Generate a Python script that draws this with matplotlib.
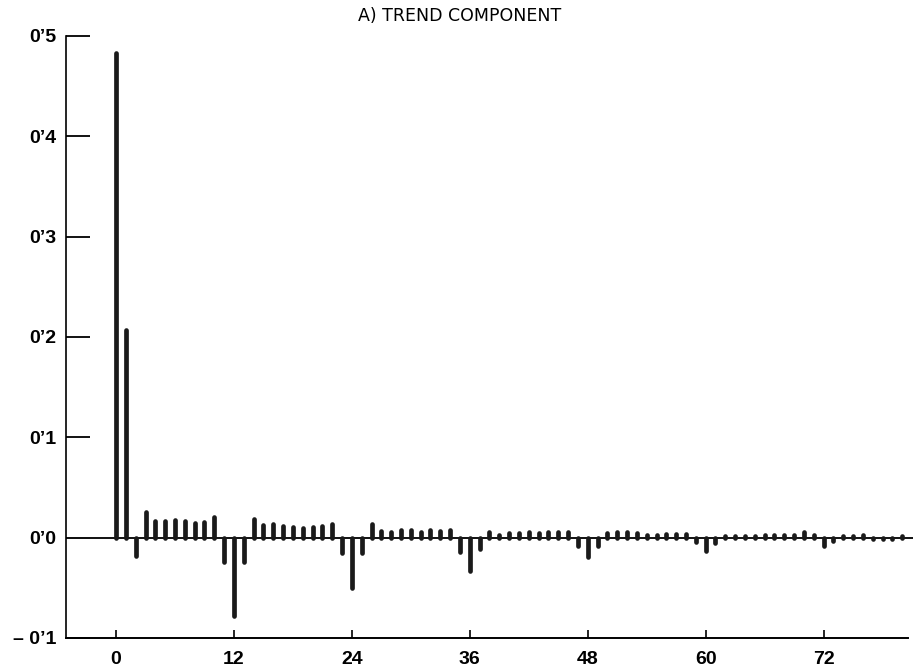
import numpy as np
import matplotlib
matplotlib.use('Agg')
import matplotlib.pyplot as plt

# autocorrelation values, lags 0..80
lags = np.arange(0, 81)
acf = [0.483, 0.207, -0.018, 0.026, 0.017, 0.017, 0.018, 0.017, 0.015, 0.016,
       0.021, -0.024, -0.078, -0.024, 0.019, 0.013, 0.014, 0.012, 0.011, 0.010,
       0.011, 0.012, 0.014, -0.015, -0.050, -0.015, 0.014, 0.007, 0.006, 0.008,
       0.008, 0.006, 0.008, 0.007, 0.008, -0.014, -0.033, -0.011, 0.006, 0.003,
       0.005, 0.005, 0.006, 0.005, 0.006, 0.006, 0.006, -0.008, -0.019, -0.008,
       0.005, 0.006, 0.006, 0.005, 0.003, 0.003, 0.004, 0.004, 0.004, -0.004,
       -0.013, -0.005, 0.002, 0.002, 0.002, 0.002, 0.003, 0.003, 0.003, 0.003,
       0.006, 0.003, -0.008, -0.003, 0.002, 0.002, 0.003, -0.001, -0.001, -0.001,
       0.002]

x_ticks = [0, 12, 24, 36, 48, 60, 72]
y_ticks = [-0.1, 0.0, 0.1, 0.2, 0.3, 0.4, 0.5]
y_labels = ['\u2013 0\u20191', '0\u20190', '0\u20191', '0\u20192', '0\u20193', '0\u20194', '0\u20195']

plt.rcParams['font.family'] = ['Liberation Sans', 'DejaVu Sans']

fig = plt.figure(figsize=(9.16, 6.72), dpi=100)
ax = fig.add_axes([66/916, 1 - 638/672, (913 - 66)/916, (638 - 36)/672])

xmin, xmax = -5.09, 81.1
ax.set_xlim(xmin, xmax)
ax.set_ylim(-0.1, 0.5)

# zero line
ax.plot([xmin, xmax], [0, 0], color='#111111', lw=1.4, zorder=2)

# spikes
lc = ax.vlines(lags, 0, acf, colors='#1a1a1a', lw=3.4, zorder=3)
lc.set_capstyle('round')

for s in ['top', 'right']:
    ax.spines[s].set_visible(False)
ax.spines['left'].set_linewidth(1.2)
ax.spines['bottom'].set_linewidth(1.4)
ax.spines['bottom'].set_bounds(xmin, 80.6)

ax.set_yticks(y_ticks)
ax.set_yticklabels(y_labels)
ax.set_xticks(x_ticks)
ax.set_xticklabels([str(t) for t in x_ticks])

ax.tick_params(axis='y', direction='in', length=17, width=1.3, pad=7,
               labelsize=14)
ax.tick_params(axis='x', direction='in', length=6, width=1.2, pad=9,
               labelsize=14)
for lab in ax.get_xticklabels() + ax.get_yticklabels():
    lab.set_fontweight('bold')

fig.text(460/916, 1 - 16/672, 'A) TREND COMPONENT', ha='center', va='center',
         fontsize=12.5, family='DejaVu Sans')

fig.savefig('out.png', dpi=100)
